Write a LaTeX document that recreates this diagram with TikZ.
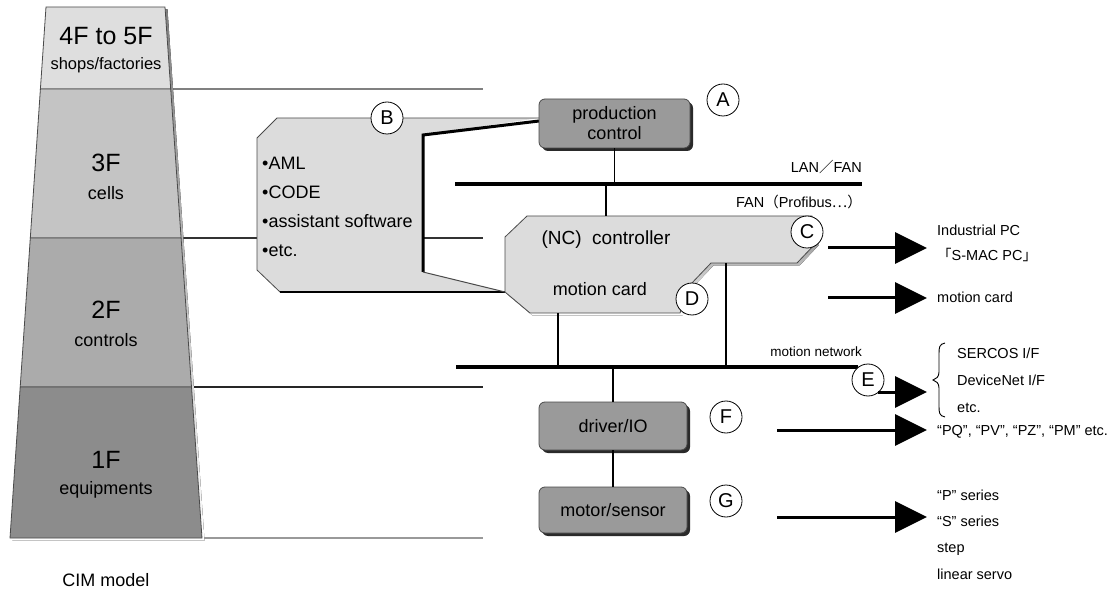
\documentclass[tikz,border=0pt]{standalone}
\usepackage{fontspec}
\setmainfont{Liberation Sans}
\newfontfamily\jpfont{Noto Sans CJK JP}
\usetikzlibrary{arrows.meta,shadows}

\definecolor{floorA}{HTML}{DEDEDE}
\definecolor{floorB}{HTML}{C4C4C4}
\definecolor{floorC}{HTML}{ABABAB}
\definecolor{floorD}{HTML}{8C8C8C}
\definecolor{panel}{HTML}{DCDCDC}
\definecolor{unit}{HTML}{9A9A9A}
\definecolor{edge}{HTML}{4A4A4A}
\definecolor{shade}{HTML}{2A2A2A}

\tikzset{
  big/.style={font=\fontsize{25}{27}\selectfont},
  main/.style={font=\fontsize{18}{20}\selectfont},
  note/.style={font=\fontsize{14.5}{16}\selectfont},
  unitbox/.style={draw=edge, line width=0.8, fill=unit, rounded corners=6,
    inner sep=0, align=center, main,
    drop shadow={shadow xshift=3pt, shadow yshift=-3pt, fill=shade, opacity=1}},
  tag/.style={circle, draw=black, line width=0.8, fill=white, minimum size=32,
    inner sep=0, font=\fontsize{20}{20}\selectfont},
  bus/.style={line width=3.5},
  link/.style={line width=1.4},
  floorline/.style={line width=1.3},
  bigarrow/.style={line width=3, -{Triangle[length=32pt,width=31pt]}},
  rlabel/.style={note, anchor=base west, inner sep=0},
}

\begin{document}
\begin{tikzpicture}[x=1pt,y=-1pt]
\useasboundingbox (0,0) rectangle (1118,593);

% floor separators reaching into the system diagram
\draw[floorline, draw=gray] (170,89) -- (483,89);
\draw[floorline, draw=black!80] (180,238) -- (483,238);
\draw[floorline, draw=black!85] (190,387) -- (483,387);
\draw[line width=2, draw=gray!80] (200,538) -- (483,538);

% CIM pyramid: shadow, then the four floors
\fill[shade] (48.5,9.5) -- (167.5,9.5) -- (204.5,540.5) -- (12.5,540.5) -- cycle;
\filldraw[fill=floorA, draw=edge, line width=0.8] (46,7) -- (165,7) -- (170.7,89) -- (40.4,89) -- cycle;
\filldraw[fill=floorB, draw=edge, line width=0.8] (40.4,89) -- (170.7,89) -- (181.1,238) -- (30.3,238) -- cycle;
\filldraw[fill=floorC, draw=edge, line width=0.8] (30.3,238) -- (181.1,238) -- (191.5,387) -- (20.2,387) -- cycle;
\filldraw[fill=floorD, draw=edge, line width=0.8] (20.2,387) -- (191.5,387) -- (202,538) -- (10,538) -- cycle;

\node[big]  (f45)  at (106,36)  {4F to 5F};
\node[font=\fontsize{16.5}{18}\selectfont] (f45t) at (106,65) {shops/factories};
\node[big]  (f3)   at (106,163) {3F};
\node[main] (f3t)  at (106,193) {cells};
\node[big]  (f2)   at (106,310) {2F};
\node[main] (f2t)  at (106,340) {controls};
\node[big]  (f1)   at (106,460) {1F};
\node[main] (f1t)  at (106,490) {equipments};
\node[main] (cim)  at (106,580) {CIM model};

% software panel B with its callout towards the controllers
\fill[panel] (257,138) -- (277,118) -- (539,118) -- (423,135) -- (423,272)
  -- (505,292) -- (280,292) -- (257,270) -- cycle;
\draw[edge, line width=0.8] (539,118) -- (277,118) -- (257,138) -- (257,270) -- (280,292);
\draw[shade, line width=2.5] (280,292) -- (505,292);
\draw[black, line width=3] (539,121) -- (423,135) -- (423,272);
\draw[edge, line width=1] (423,272) -- (505,292);

\node[main, anchor=west, inner sep=0] (aml)  at (262,163) {•AML};
\node[main, anchor=west, inner sep=0] (code) at (262,192) {•CODE};
\node[main, anchor=west, inner sep=0] (asw)  at (262,221) {•assistant software};
\node[main, anchor=west, inner sep=0] (etc)  at (262,251) {•etc.};

% controller panel with shadow
\fill[shade] (507.5,239.5) -- (529.5,218.5) -- (814.5,218.5) -- (818.5,245.5) -- (799.5,265.5)
  -- (713.5,265.5) -- (692.5,287.5) -- (682.5,315.5) -- (532.5,315.5) -- (507.5,294.5) -- cycle;
\filldraw[fill=panel, draw=edge, line width=0.8] (505,237) -- (527,216) -- (812,216) -- (816,243) -- (797,263)
  -- (711,263) -- (690,285) -- (680,313) -- (530,313) -- (505,292) -- cycle;
\node[font=\fontsize{19}{21}\selectfont] (nc) at (606,240) {(NC)\ \ controller};
\node[main] (mcard) at (600,289) {motion card};

% buses
\coordinate (lanW) at (455,184);
\coordinate (lanE) at (862,184);
\coordinate (mnW)  at (456,367);
\coordinate (mnE)  at (858,367);
\draw[bus] (lanW) -- (lanE);
\draw[bus] (mnW) -- (mnE);
\node[note, anchor=east, inner sep=0] (lanlbl) at (862,167) {LAN{\jpfont ／}FAN};
\node[note, anchor=east, inner sep=0] (fanlbl) at (862,202) {FAN{\jpfont （}Profibus{\jpfont …）}};
\node[font=\fontsize{13.5}{15}\selectfont, anchor=east, inner sep=0] (mnlbl) at (862,352) {motion network};

% units
\node[unitbox, minimum width=151, minimum height=49] (prod) at (614.5,123.5) {production\\control};
\node[unitbox, minimum width=148, minimum height=48] (drv)  at (613,426) {driver/IO};
\node[unitbox, minimum width=148, minimum height=46] (mot)  at (613,510) {motor/sensor};

% vertical links
\coordinate (ncTop)  at (606,216);
\coordinate (ncBot)  at (558,313);
\coordinate (ncStep) at (726,263);
\draw[link] (prod.south) -- (prod.south |- lanE);
\draw[link] (ncTop |- lanE) -- (ncTop);
\draw[link] (ncBot) -- (ncBot |- mnE);
\draw[link] (ncStep) -- (ncStep |- mnE);
\draw[link] (drv.north |- mnE) -- (drv.north);
\draw[link] (drv.south) -- (mot.north);

% letter tags
\node[tag] (tA) at (723,100) {A};
\node[tag] (tB) at (387,118) {B};
\node[tag] (tC) at (807,232) {C};
\node[tag] (tD) at (692,299) {D};
\node[tag] (tE) at (868,380) {E};
\node[tag] (tF) at (726,417) {F};
\node[tag] (tG) at (726,501) {G};

% product arrows
\coordinate (aC0) at (828,248);  \coordinate (aC1) at (927,248);
\coordinate (aM0) at (828,298);  \coordinate (aM1) at (927,298);
\coordinate (aE0) at (878,392);  \coordinate (aE1) at (927,392);
\coordinate (aF0) at (777,430);  \coordinate (aF1) at (927,430);
\coordinate (aG0) at (777,517);  \coordinate (aG1) at (927,517);
\draw[bigarrow] (aC0) -- (aC1);
\draw[bigarrow] (aM0) -- (aM1);
\draw[bigarrow] (aE0) -- (aE1);
\draw[bigarrow] (aF0) -- (aF1);
\draw[bigarrow] (aG0) -- (aG1);

% product labels (baselines)
\node[rlabel] (ipc)   at (937,236) {Industrial PC};
\node[rlabel] (smac)  at (937,261) {{\jpfont 「}S-MAC PC{\jpfont 」}};
\node[rlabel] (mc)    at (937,303) {motion card};
\draw[line width=0.9] (945,343) .. controls (939,344) and (939,348) .. (939,354)
  -- (939,372) .. controls (939,377) and (936,379) .. (933,380)
  .. controls (936,381) and (939,383) .. (939,388)
  -- (939,406) .. controls (939,412) and (939,416) .. (945,417);
\node[rlabel] (sercos) at (957,358) {SERCOS I/F};
\node[rlabel] (dnet)   at (957,385) {DeviceNet I/F};
\node[rlabel] (ietc)   at (957,412) {etc.};
\node[rlabel] (pq)     at (937,435) {“PQ”, “PV”, “PZ”, “PM” etc.};
\node[rlabel] (ps)     at (937,500) {“P” series};
\node[rlabel] (ss)     at (937,526) {“S” series};
\node[rlabel] (stp)    at (937,552) {step};
\node[rlabel] (lin)    at (937,579) {linear servo};

\end{tikzpicture}
\end{document}
